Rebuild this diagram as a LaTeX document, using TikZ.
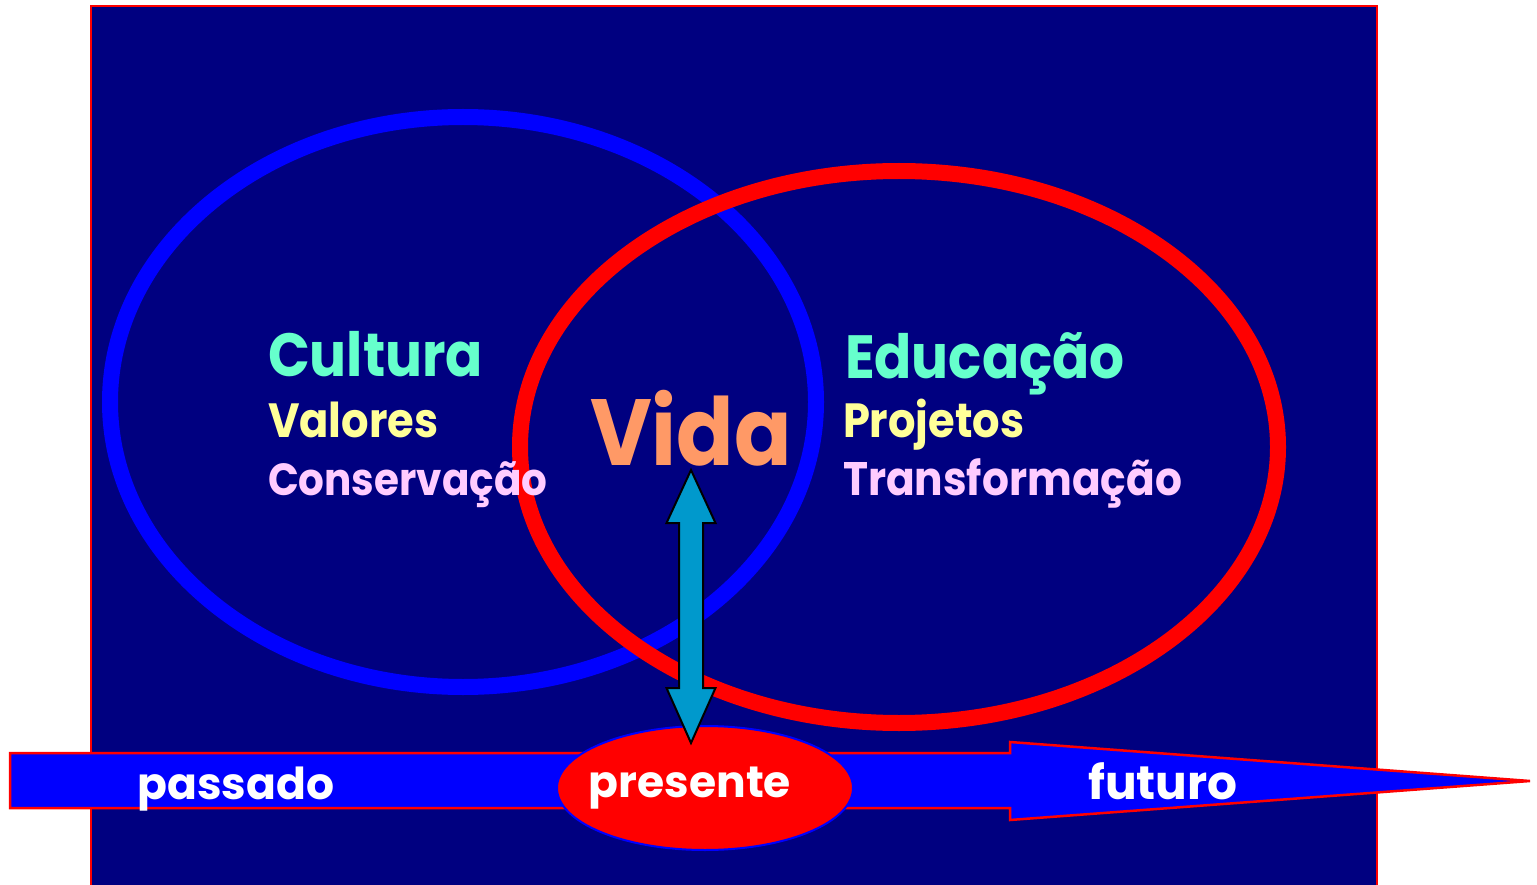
\documentclass[tikz,border=0pt]{standalone}
\usepackage{fontspec}
\setmainfont{Poppins}
\newfontfamily\narrowfont{Poppins}[FakeStretch=0.9]
\usetikzlibrary{shapes.geometric,calc}
\definecolor{navy}{RGB}{0,0,128}
\definecolor{aqua}{RGB}{102,255,204}
\definecolor{lyellow}{RGB}{255,255,153}
\definecolor{lpink}{RGB}{255,204,255}
\definecolor{lorange}{RGB}{255,153,102}
\definecolor{arrowblue}{RGB}{0,153,204}
\tikzset{
  lbl/.style={anchor=base west, inner sep=0pt, outer sep=0pt},
  title/.style={lbl, text=aqua, font=\narrowfont\fontsize{61}{61}\selectfont\bfseries},
  sub/.style={lbl, text=lyellow, font=\narrowfont\fontsize{48}{48}\selectfont\bfseries},
  third/.style={lbl, text=lpink, font=\narrowfont\fontsize{45}{45}\selectfont\bfseries},
  vida/.style={lbl, text=lorange, font=\narrowfont\fontsize{94}{94}\selectfont\bfseries},
  time/.style={anchor=base, inner sep=0pt, text=white, font=\fontsize{44}{44}\selectfont\bfseries},
  ring/.style={draw, line width=16pt, ellipse, inner sep=0pt},
  timeline/.style={draw=red, line width=2.5pt, fill=blue, line join=miter},
  fatarrow/.style={draw=black, line width=2pt, fill=arrowblue, line join=miter},
}
\begin{document}
\begin{tikzpicture}[x=1pt,y=-1pt]
\useasboundingbox (0,0) rectangle (1537,885);
% background
\draw[red, line width=2.5pt, fill=navy] (91,6) rectangle (1377,895);
% time line arrow
\coordinate (tl) at (10,753);
\coordinate (tip) at (1530,781);
\draw[timeline] (tl) -- (1010,753) -- (1010,742) -- (tip) -- (1010,820) -- (1010,808) -- (10,808) -- cycle;
% ellipses
\node[ring, draw=blue, minimum width=706pt, minimum height=570pt] (cult) at (463,402) {};
\node[ring, draw=red, minimum width=758pt, minimum height=552pt] (edu) at (899,447) {};
% presente
\node[ellipse, draw=blue, line width=2pt, fill=red, minimum width=296pt, minimum height=124pt, inner sep=0pt] (pres) at (705,788) {};
% double arrow
\coordinate (at) at (691,470);
\coordinate (ab) at (691,743);
\draw[fatarrow] (at) -- ($(at)+(24.5,53)$) -- ($(at)+(12,53)$) -- ($(ab)+(12,-55)$) -- ($(ab)+(24.5,-55)$) -- (ab)
  -- ($(ab)+(-24.5,-55)$) -- ($(ab)+(-12,-55)$) -- ($(at)+(-12,53)$) -- ($(at)+(-24.5,53)$) -- cycle;
% texts
\node[title] (cultura) at (268,377) {Cultura};
\node[sub] (valores) at (268,437) {Valores};
\node[third] (conserv) at (268,495) {Conservação};
\node[vida] (vidat) at (590,465) {Vida};
\node[title] (educ) at (845,378) {Educação};
\node[sub] (proj) at (843,437) {Projetos};
\node[third, font=\narrowfont\fontsize{47}{47}\selectfont\bfseries] (transf) at (843,495) {Transformação};
\node[time] (passado) at (236,799) {passado};
\node[time] (presente) at (690,797) {presente};
\node[time, font=\fontsize{47}{47}\selectfont\bfseries] (futuro) at (1163,799) {futuro};
\end{tikzpicture}
\end{document}
